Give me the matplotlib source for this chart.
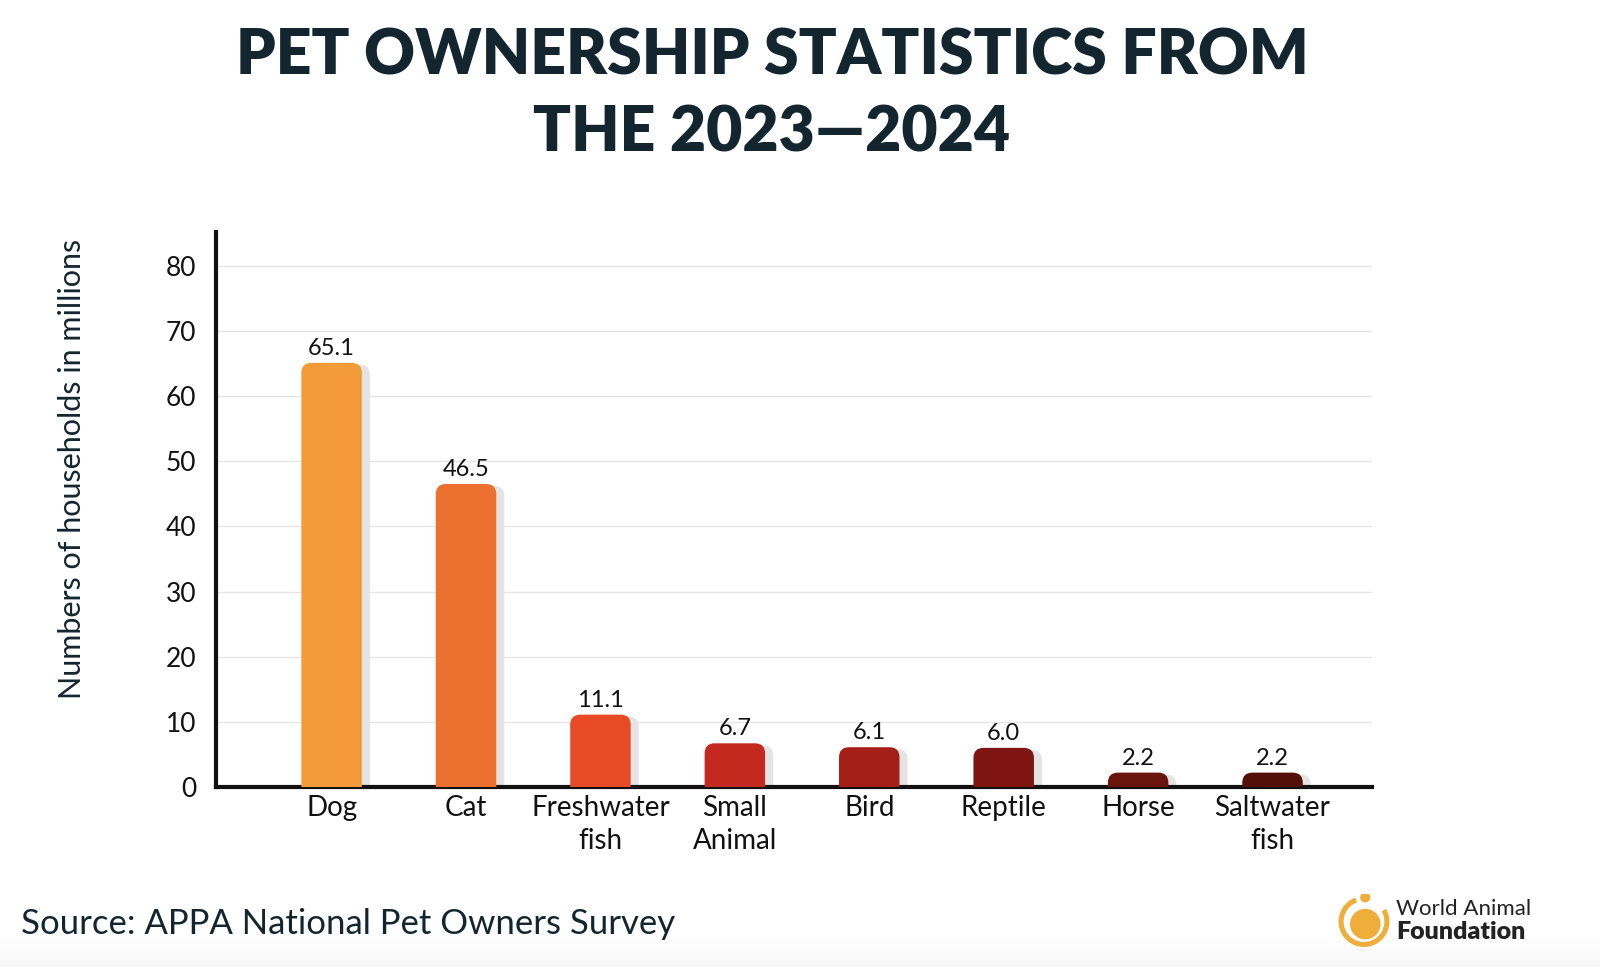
import numpy as np
import matplotlib.pyplot as plt
from matplotlib.patches import FancyBboxPatch, Circle, Wedge

# data
categories = ["Dog", "Cat", "Freshwater\nfish", "Small\nAnimal", "Bird", "Reptile", "Horse", "Saltwater\nfish"]
households = [65.1, 46.5, 11.1, 6.7, 6.1, 6.0, 2.2, 2.2]
value_labels = ["65.1", "46.5", "11.1", "6.7", "6.1", "6.0", "2.2", "2.2"]
bar_colors = ["#F29B38", "#EC7030", "#E84A26", "#C4291E", "#A31F17", "#7E1510", "#6A140E", "#531009"]
y_ticks = [0, 10, 20, 30, 40, 50, 60, 70, 80]

FONT = "Lato"
TITLE_COLOR = "#13262F"

fig = plt.figure(figsize=(16, 9.67), dpi=100)
fig.patch.set_facecolor("white")

# soft grey fade at the very bottom (white on top, light grey at the edge)
bg = fig.add_axes([0, 0, 1, 0.035], zorder=-5)
grad = np.linspace(0, 1, 50).reshape(-1, 1)
bg.imshow(grad, aspect="auto", cmap="Greys", vmin=0, vmax=16, extent=[0, 1, 0, 1])
bg.axis("off")

ax = fig.add_axes([0.135, 0.1862, 0.7225, 0.574])
x = np.arange(len(categories))
bar_w = 0.45

# rounding in data units (x) and aspect correction for y
px_x = ax.get_position().width * 1600 / 8.6
px_y = ax.get_position().height * 967 / 85.2
r = 0.075
aspect = px_x / px_y

for i, (xi, val, col) in enumerate(zip(x, households, bar_colors)):
    shadow = FancyBboxPatch((xi - bar_w / 2 + 0.06, -4), bar_w, val + 4 - 0.3,
                            boxstyle=f"round,pad=0,rounding_size={r}",
                            mutation_aspect=aspect, fc="#e4e4e4", ec="none", zorder=2)
    ax.add_patch(shadow)
    bar = FancyBboxPatch((xi - bar_w / 2, -4), bar_w, val + 4,
                         boxstyle=f"round,pad=0,rounding_size={r}",
                         mutation_aspect=aspect, fc=col, ec="none", zorder=3)
    ax.add_patch(bar)
    ax.text(xi, val + 0.6, value_labels[i], ha="center", va="bottom",
            fontsize=17, family=FONT, color="#111111", zorder=4)

ax.set_xlim(-0.86, 7.74)
ax.set_ylim(0, 85.2)
ax.set_yticks(y_ticks)
ax.set_yticklabels([str(t) for t in y_ticks], fontsize=19, family=FONT, color="#111111")
ax.set_xticks(x)
ax.set_xticklabels(categories, fontsize=20, family=FONT, color="#111111", linespacing=1.3)
ax.tick_params(axis="both", length=0)
ax.tick_params(axis="y", pad=14)
ax.tick_params(axis="x", pad=6)
ax.yaxis.grid(True, color="#e6e6e6", linewidth=1)
ax.set_axisbelow(True)
for s in ["top", "right"]:
    ax.spines[s].set_visible(False)
ax.spines["left"].set_linewidth(3)
ax.spines["bottom"].set_linewidth(3)
ax.spines["left"].set_color("#111111")
ax.spines["bottom"].set_color("#111111")

fig.text(0.045, 0.515, "Numbers of households in millions", rotation=90,
         ha="center", va="center", fontsize=22, family=FONT, color="#13262F")

# title
fig.text(0.4825, 0.942, "PET OWNERSHIP STATISTICS FROM", ha="center", va="center",
         fontsize=45, fontweight="heavy", family=FONT, color=TITLE_COLOR)
fig.text(0.4825, 0.862, "THE 2023\u20142024", ha="center", va="center",
         fontsize=45, fontweight="heavy", family=FONT, color=TITLE_COLOR)

# source
fig.text(0.013, 0.044, "Source: APPA National Pet Owners Survey", ha="left", va="center",
         fontsize=25, family=FONT, color="#13262F")

# logo
la = fig.add_axes([0.835, 0.018, 0.035, 0.058])
la.set_xlim(-1.1, 1.1)
la.set_ylim(-1.1, 1.1)
la.set_aspect("equal")
la.axis("off")
la.add_patch(Wedge((0, 0), 1.0, 110, 430 - 40, width=0.2, fc="#EFAE3A", ec="none"))
la.add_patch(Circle((0.05, -0.1), 0.6, fc="#EFAE3A", ec="none"))
la.add_patch(Circle((0.05, 0.95), 0.2, fc="#EFAE3A", ec="none"))
fig.text(0.8725, 0.060, "World Animal", ha="left", va="center", fontsize=16,
         family=FONT, color="#222222")
fig.text(0.8725, 0.036, "Foundation", ha="left", va="center", fontsize=18,
         family=FONT, fontweight="heavy", color="#222222")

fig.savefig("out.png", dpi=100)
